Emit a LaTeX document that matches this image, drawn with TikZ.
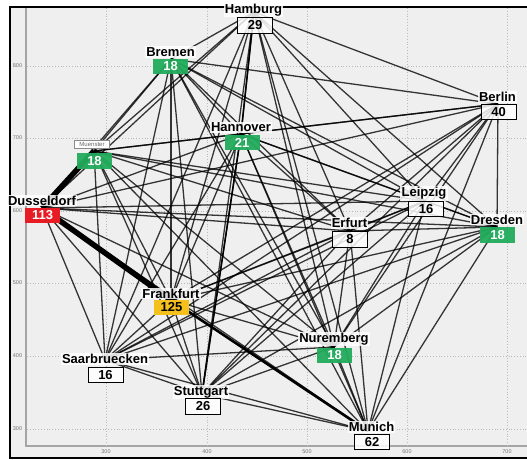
\documentclass[tikz,border=0pt]{standalone}
\usepackage{fontspec}
\setmainfont{Liberation Sans}
\definecolor{gbg}{RGB}{239,239,239}
\definecolor{ggreen}{RGB}{34,172,92}
\definecolor{gred}{RGB}{232,28,36}
\definecolor{gyellow}{RGB}{244,192,28}
\definecolor{gridc}{RGB}{185,185,185}
\definecolor{axisc}{RGB}{165,165,165}
\tikzset{
  edge/.style={draw=black, line width=1.3pt, draw opacity=0.78},
  thickedge/.style={draw=black, line width=5.5pt},
  midedge/.style={draw=black, line width=2.6pt},
  cityname/.style={font=\fontsize{13}{13}\selectfont\bfseries, fill=white, fill opacity=0.85, text opacity=1, inner sep=1.2pt},
  valbox/.style={minimum width=35pt, minimum height=15.5pt, inner sep=0pt, font=\fontsize{13}{13}\selectfont\bfseries},
  whitebox/.style={valbox, draw=black, line width=1pt, fill=white, fill opacity=0.85, text opacity=1, draw opacity=1},
  greenbox/.style={valbox, fill=ggreen, fill opacity=0.95, text opacity=1, text=white},
  redbox/.style={valbox, fill=gred, text=white},
  yellowbox/.style={valbox, fill=gyellow, text=black},
  gridline/.style={draw=gridc, line width=0.8pt, dotted},
  ticklab/.style={font=\fontsize{5.5}{5.5}\selectfont, text=black!55, inner sep=0pt},
  smalllab/.style={font=\fontsize{6}{6}\selectfont, text=black!60, draw=black!45, fill=white, line width=0.6pt, minimum width=35pt, minimum height=8pt, inner sep=0pt}
}
\begin{document}
\begin{tikzpicture}[x=1pt,y=-1pt]
\useasboundingbox (0,0) rectangle (527,459);
% frame and plot background
\fill[white] (0,0) rectangle (527,459);
\draw[line width=2pt, fill=gbg] (10,7) rectangle (540,458);
\draw[axisc, line width=1.2pt] (26,8) -- (26,446) -- (540,446);
% grid
\foreach \gx/\lab in {106/300,207/400,307/500,407/600,507/700} {
  \draw[gridline] (\gx,8) -- (\gx,445);
  \node[ticklab] (xt\lab) at (\gx,452) {\lab};
}
\foreach \gy/\lab in {66/800,138/700,211/600,283/500,356/400,429/300} {
  \draw[gridline] (27,\gy) -- (527,\gy);
  \node[ticklab] (yt\lab) at (17.5,\gy) {\lab};
}
% vertices
\coordinate (Hamburg) at (254,12);
\coordinate (Bremen) at (171,59);
\coordinate (Muenster) at (94,151);
\coordinate (Hannover) at (241,134);
\coordinate (Berlin) at (498,104);
\coordinate (Leipzig) at (425,201);
\coordinate (Dresden) at (497,227);
\coordinate (Erfurt) at (350,231);
\coordinate (Dusseldorf) at (42,208);
\coordinate (Frankfurt) at (171,300);
\coordinate (Nuremberg) at (334,347);
\coordinate (Saarbruecken) at (105,360);
\coordinate (Stuttgart) at (202,394);
\coordinate (Munich) at (368,431);
\def\cities{Hamburg,Bremen,Muenster,Hannover,Berlin,Leipzig,Dresden,Erfurt,Dusseldorf,Frankfurt,Nuremberg,Saarbruecken,Stuttgart,Munich}
\foreach \a [count=\i] in \cities {
  \foreach \b [count=\j] in \cities {
    \ifnum\j>\i \draw[edge] (\a) -- (\b); \fi
  }
}
\draw[thickedge] (Dusseldorf) -- (Muenster);
\draw[thickedge] (Dusseldorf) -- (Frankfurt);
\draw[midedge] (Frankfurt) -- (Munich);
\draw[draw=black, line width=1.5pt] (Hamburg) -- (Hannover);
\draw[draw=black, line width=1.5pt] (Hannover) -- (Stuttgart);
% labels
\node[cityname] (nHamburg) at (253.5,10) {Hamburg};
\node[whitebox] (bHamburg) at (255,25.5) {29};
\node[cityname] (nBremen) at (170.5,52) {Bremen};
\node[greenbox] (bBremen) at (170.5,66.5) {18};
\node[smalllab] (nMuenster) at (92,144) {Muenster};
\node[greenbox] (bMuenster) at (94.5,161) {18};
\node[cityname] (nHannover) at (241,127.5) {Hannover};
\node[greenbox] (bHannover) at (242,142.5) {21};
\node[cityname] (nBerlin) at (497.5,97) {Berlin};
\node[whitebox] (bBerlin) at (498.5,112) {40};
\node[cityname] (nLeipzig) at (424,193.5) {Leipzig};
\node[whitebox] (bLeipzig) at (426,209) {16};
\node[cityname] (nDresden) at (497,219.5) {Dresden};
\node[greenbox] (bDresden) at (497.5,235) {18};
\node[cityname] (nErfurt) at (349.5,223) {Erfurt};
\node[whitebox] (bErfurt) at (350,239.5) {8};
\node[cityname] (nDusseldorf) at (42,200.5) {Dusseldorf};
\node[redbox] (bDusseldorf) at (42.5,215.5) {113};
\node[cityname] (nFrankfurt) at (171,293.5) {Frankfurt};
\node[yellowbox] (bFrankfurt) at (171.5,307.5) {125};
\node[cityname] (nNuremberg) at (334,339) {Nuremberg};
\node[greenbox] (bNuremberg) at (334.5,355.5) {18};
\node[cityname] (nSaarbruecken) at (105,359) {Saarbruecken};
\node[whitebox] (bSaarbruecken) at (105.5,375) {16};
\node[cityname] (nStuttgart) at (201,392) {Stuttgart};
\node[whitebox] (bStuttgart) at (203,406.5) {26};
\node[cityname] (nMunich) at (371.5,427) {Munich};
\node[whitebox] (bMunich) at (372,442) {62};
\end{tikzpicture}
\end{document}
